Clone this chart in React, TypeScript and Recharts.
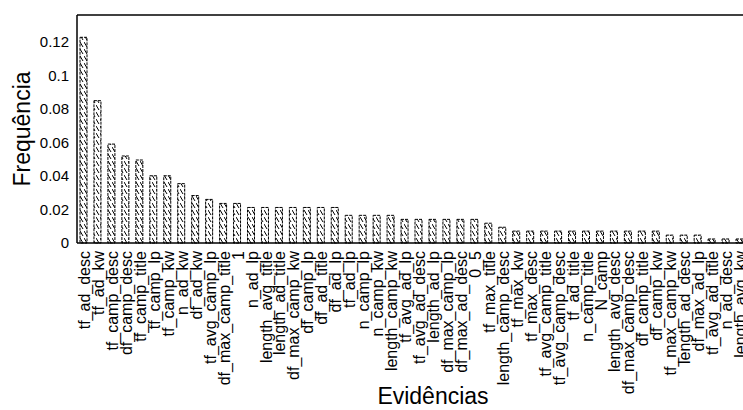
import { BarChart, Bar, XAxis, YAxis, ReferenceLine, Label } from 'recharts';

const evidencias = [
  'tf_ad_desc', 'tf_ad_kw', 'tf_camp_desc', 'df_camp_desc', 'tf_camp_title', 'tf_camp_lp',
  'tf_camp_kw', 'n_ad_kw', 'df_ad_kw', 'tf_avg_camp_lp', 'df_max_camp_title', '1',
  'n_ad_lp', 'length_avg_title', 'length_ad_title', 'df_max_camp_kw', 'df_camp_lp', 'df_ad_title',
  'df_ad_lp', 'tf_ad_lp', 'n_camp_lp', 'n_camp_kw', 'length_camp_kw', 'tf_avg_ad_lp',
  'tf_avg_ad_desc', 'length_ad_lp', 'df_max_camp_lp', 'df_max_ad_desc', '0_5', 'tf_max_title',
  'length_camp_desc', 'tf_max_kw', 'tf_max_desc', 'tf_avg_camp_title', 'tf_avg_camp_desc', 'tf_ad_title',
  'n_camp_title', 'N_camp', 'length_avg_desc', 'df_max_camp_desc', 'df_camp_title', 'df_camp_kw',
  'tf_max_camp_kw', 'length_ad_desc', 'df_max_ad_lp', 'tf_avg_ad_title', 'n_ad_desc', 'length_avg_kw',
];

const frequencias = [
  0.1227, 0.0849, 0.059, 0.0519, 0.0495, 0.0401,
  0.0401, 0.0354, 0.0283, 0.026, 0.0236, 0.0236,
  0.0212, 0.0212, 0.0212, 0.0212, 0.0212, 0.0212,
  0.0212, 0.0165, 0.0165, 0.0165, 0.0165, 0.0141,
  0.0141, 0.0141, 0.0141, 0.0141, 0.0141, 0.0118,
  0.0094, 0.0071, 0.0071, 0.0071, 0.0071, 0.0071,
  0.0071, 0.0071, 0.0071, 0.0071, 0.0071, 0.0071,
  0.0047, 0.0047, 0.0047, 0.0024, 0.0024, 0.0024,
];

const yTicks = [0, 0.02, 0.04, 0.06, 0.08, 0.1, 0.12];
const yMax = 0.136;

const data = evidencias.map((nome, i) => ({ nome, freq: frequencias[i] }));

const XTick = (props: any) => {
  const { x, y, payload } = props;
  return (
    <g transform={`translate(${x},${y})`}>
      <text transform="rotate(-90)" textAnchor="end" dy="0.38em" fontSize={16} fill="#000">
        {payload.value}
      </text>
    </g>
  );
};

const YTitle = (props: any) => {
  const { y, height } = props.viewBox;
  const cx = 22;
  const cy = y + height / 2;
  return (
    <text x={cx} y={cy} transform={`rotate(-90, ${cx}, ${cy})`} textAnchor="middle" dominantBaseline="central" fontSize={23} fill="#000">
      Frequência
    </text>
  );
};

const XTitle = (props: any) => {
  const { x, width, y, height } = props.viewBox;
  return (
    <text x={x + width / 2 + 21} y={y + height - 6} textAnchor="middle" fontSize={23} fill="#000">
      Evidências
    </text>
  );
};

export default function App() {
  return (
    <div style={{ position: 'absolute', left: 0, top: 0, width: 743, height: 410, overflow: 'hidden', background: '#fff', fontFamily: '"Liberation Sans", Arial, sans-serif' }}>
      <BarChart width={747} height={410} data={data} margin={{ top: 15, right: 0, bottom: 0, left: 0 }}>
        <defs>
          <pattern id="hatch" patternUnits="userSpaceOnUse" width="4" height="7">
            <rect width="4" height="7" fill="#fff" />
            <path d="M0,0 L3,5" stroke="#000" strokeWidth={1} />
          </pattern>
        </defs>
        <XAxis dataKey="nome" interval={0} tick={<XTick />} tickLine={false} height={167} axisLine={{ stroke: '#000', strokeWidth: 1.5 }}>
          <Label content={XTitle} />
        </XAxis>
        <YAxis width={77} domain={[0, yMax]} ticks={yTicks} tickLine={false} axisLine={{ stroke: '#000', strokeWidth: 1.5 }} tick={{ fill: '#000', fontSize: 15 }}>
          <Label content={YTitle} />
        </YAxis>
        <ReferenceLine y={yMax} stroke="#000" strokeWidth={1.5} />
        <Bar dataKey="freq" barSize={7} fill="url(#hatch)" stroke="#000" strokeWidth={1} strokeDasharray="3 1" isAnimationActive={false} />
      </BarChart>
    </div>
  );
}
